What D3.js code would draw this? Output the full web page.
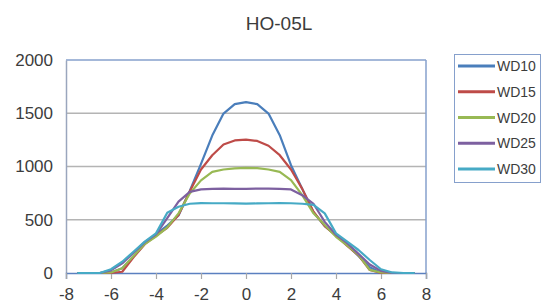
<!DOCTYPE html>
<html><head><meta charset="utf-8">
<script src="https://cdn.jsdelivr.net/npm/d3@7"></script>
<style>html,body{margin:0;padding:0;background:#fff;}svg{display:block;font-family:"Liberation Sans",Arial,sans-serif;}</style>
</head><body>
<svg id="c" width="542" height="304"></svg>
<script>
const title = "HO-05L";
const xValues = [-7.5,-7,-6.5,-6,-5.5,-5,-4.5,-4,-3.5,-3,-2.5,-2,-1.5,-1,-0.5,0,0.5,1,1.5,2,2.5,3,3.5,4,4.5,5,5.5,6,6.5,7,7.5];
const seriesNames = ["WD10","WD15","WD20","WD25","WD30"];
const WD10 = [0,0,0,5,45,155,275,365,445,540,770,1025,1290,1497,1585,1605,1585,1497,1294,1012,790,570,440,355,265,160,55,5,0,0,0];
const WD15 = [0,0,0,0,12,147,270,350,425,545,765,972,1106,1206,1245,1253,1240,1195,1106,972,790,575,440,350,255,165,28,0,0,0,0];
const WD20 = [0,0,0,5,44,160,272,341,428,560,747,870,950,972,983,987,985,972,950,872,731,560,450,340,260,170,30,5,0,0,0];
const WD25 = [0,0,0,25,90,190,290,362,515,670,762,785,790,792,790,790,792,793,790,785,731,650,480,360,280,180,80,20,0,0,0];
const WD30 = [0,0,0,35,106,200,294,372,565,622,650,656,655,655,653,652,653,655,656,655,650,640,560,372,294,216,122,35,5,0,0];
const seriesValues = [WD10,WD15,WD20,WD25,WD30];
const colors = ["#4a7ebb","#be4b48","#98b954","#7d60a0","#46aac5"];
const xTicks = [-8,-6,-4,-2,0,2,4,6,8];
const yTicks = [0,500,1000,1500,2000];

const svg = d3.select("#c");
const x = d3.scaleLinear().domain([-8,8]).range([66,426]);
const y = d3.scaleLinear().domain([0,2000]).range([273,60]);
const txt = "#3c3c3c";

// gridlines
svg.append("g").selectAll("line").data(yTicks.filter(d=>d>0 && d<2000)).join("line")
  .attr("x1",x(-8)).attr("x2",x(8)).attr("y1",d=>y(d)).attr("y2",d=>y(d))
  .attr("stroke","#b4b4b4").attr("stroke-width",1.5);

// plot border top/right
svg.append("line").attr("x1",x(-8)).attr("x2",x(8)).attr("y1",y(2000)).attr("y2",y(2000)).attr("stroke","#86a0cc").attr("stroke-width",1.5);
svg.append("line").attr("x1",x(8)).attr("x2",x(8)).attr("y1",y(2000)).attr("y2",y(0)).attr("stroke","#86a0cc").attr("stroke-width",1.5);

// y axis
const yAxis = d3.axisLeft(y).tickValues(yTicks).tickSize(0).tickPadding(13).tickFormat(d3.format("d"));
const gy = svg.append("g").attr("transform",`translate(${x(-8)},0)`).call(yAxis);
gy.select(".domain").attr("stroke","#9aa6bd").attr("stroke-width",1.5);
gy.selectAll("text").attr("font-size",17).attr("fill",txt).attr("font-family","Liberation Sans, Arial, sans-serif");

// x axis
const xAxis = d3.axisBottom(x).tickValues(xTicks).tickSize(6).tickPadding(9).tickFormat(d3.format("d"));
const gx = svg.append("g").attr("transform",`translate(0,${y(0)})`).call(xAxis);
gx.select(".domain").attr("stroke","#5b80c0").attr("stroke-width",1.5);
gx.selectAll(".tick line").attr("stroke","#a8a8a8").attr("stroke-width",1.2);
gx.selectAll("text").attr("font-size",17).attr("fill",txt).attr("font-family","Liberation Sans, Arial, sans-serif")
  .text(d=>d<0?"-"+Math.abs(d):d);

// lines
const line = d3.line().x((d,i)=>x(xValues[i])).y(d=>y(d));
svg.append("g").selectAll("path").data(seriesValues).join("path")
  .attr("d",d=>line(d)).attr("fill","none")
  .attr("stroke",(d,i)=>colors[i]).attr("stroke-width",2.2).attr("stroke-linejoin","round");

// title
svg.append("text").attr("x",279).attr("y",30).attr("text-anchor","middle")
  .attr("font-size",19).attr("fill",txt).text(title);

// legend
const lg = svg.append("g");
lg.append("rect").attr("x",454.5).attr("y",54.5).attr("width",86).attr("height",128)
  .attr("fill","none").attr("stroke","#86a0cc").attr("stroke-width",1);
const rowY = d3.scalePoint().domain(seriesNames).range([66,169]);
const items = lg.selectAll("g.item").data(seriesNames).join("g").attr("class","item")
  .attr("transform",d=>`translate(0,${rowY(d)})`);
items.append("line").attr("x1",458).attr("x2",495).attr("y1",0).attr("y2",0)
  .attr("stroke",(d,i)=>colors[i]).attr("stroke-width",3);
items.append("text").attr("x",497).attr("y",5).attr("font-size",14).attr("fill",txt).text(d=>d);
</script>
</body></html>
